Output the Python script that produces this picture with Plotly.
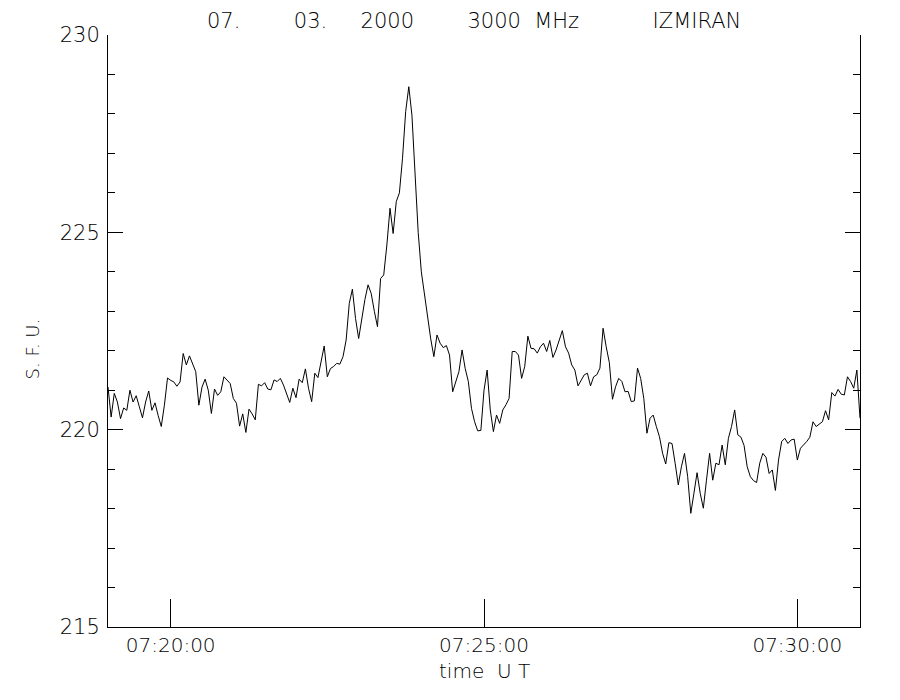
import pandas as pd
import plotly.graph_objects as go

# ---- data -------------------------------------------------------------
start_time = "2000-03-07 07:19:00"
cadence = "3s"

sfu_values = [
    # 07:19:00 ...
    221.08, 220.32, 220.92, 220.70, 220.28, 220.55, 220.49, 221.00, 220.70, 220.86,
    220.58, 220.30, 220.70, 220.98, 220.49, 220.68, 220.36, 220.08, 220.62, 221.31,
    221.25, 221.21, 221.10, 221.21, 221.93, 221.64, 221.87, 221.68, 221.47, 220.62,
    221.08, 221.28, 221.00, 220.41, 221.03, 220.87, 220.96, 221.34, 221.25, 221.17,
    220.79,
    220.67, 220.09, 220.40, 219.93, 220.52, 220.40, 220.25, 221.15, 221.11, 221.19,
    221.03, 221.01, 221.26, 221.22, 221.30, 221.13, 220.92, 220.69, 221.05, 220.81,
    221.28, 221.19, 221.54, 221.05, 220.71, 221.43, 221.32, 221.68, 222.12, 221.34,
    221.55, 221.60, 221.68, 221.66, 221.85, 222.27, 223.20, 223.56, 222.82,
    222.31, 222.85, 223.30, 223.67, 223.45, 223.00, 222.61, 223.83, 223.92, 224.68,
    225.61, 224.97, 225.78, 226.00, 226.88, 228.06, 228.69,
    227.97, 226.30, 225.00, 224.00, 223.40, 222.90, 222.30, 221.85,
    222.40, 222.19, 222.08, 222.13, 221.89, 220.96, 221.22, 221.47, 222.02, 221.55,
    221.22, 220.54, 220.20, 219.97, 219.98, 221.00, 221.51,
    220.50, 219.95, 220.37, 220.16, 220.50, 220.63, 220.79, 221.98, 221.98, 221.89,
    221.30, 221.60, 222.37, 222.06, 222.05, 221.94, 222.10, 222.19, 221.98, 222.26,
    221.83, 222.02, 222.27, 222.51, 222.10, 221.94, 221.64, 221.51, 221.11, 221.26,
    221.39, 221.43, 221.11, 221.34, 221.39, 221.56, 222.57, 222.10, 221.70,
    220.77, 221.09, 221.30, 221.22, 220.96, 220.97, 220.71, 220.73, 221.56, 221.30,
    220.79, 219.91, 220.29, 220.37, 220.08, 219.82, 219.40, 219.13, 219.67, 219.65,
    219.15, 218.60, 219.06, 219.40, 218.81, 217.88, 218.39, 218.91, 218.39, 218.01,
    218.72, 219.40, 218.72, 219.15, 219.11, 219.61, 219.11, 219.78, 220.08, 220.50,
    219.87, 219.81, 219.60, 219.06, 218.81, 218.71, 218.66, 219.15, 219.40, 219.30,
    218.89, 218.98, 218.46, 219.23, 219.70, 219.78, 219.65, 219.74, 219.76, 219.23,
    219.53, 219.61, 219.70, 219.81, 220.20, 220.08, 220.14, 220.20, 220.48, 220.25,
    220.94, 220.85, 221.02, 220.90, 220.88, 221.34, 221.22, 221.05, 221.51, 220.29,
]

x_range = ["2000-03-07 07:19:00", "2000-03-07 07:31:00"]
x_tick_values = ["2000-03-07 07:20:00", "2000-03-07 07:25:00", "2000-03-07 07:30:00"]
x_tick_labels = ["07:20:00", "07:25:00", "07:30:00"]
y_range = [215, 230]
y_tick_values = [215, 220, 225, 230]
y_tick_labels = ["215", "220", "225", "230"]

NB = "\u00a0"
title_text = ("07." + NB * 8 + "03." + NB * 5 + "2000" + NB * 8 + "3000" + NB * 2
              + "MHz" + NB * 11 + "IZMIRAN")
x_title = "time" + NB * 2 + "U" + NB + "T"
y_title = "S." + NB + "F." + NB + "U."

times = pd.date_range(start=start_time, periods=len(sfu_values), freq=cadence)

# ---- figure -----------------------------------------------------------
FONT = dict(family="DejaVu Sans", size=21, color="black", weight=200)
TICK_FONT = dict(family="DejaVu Sans", size=20, color="black", weight=200)
YTITLE_FONT = dict(family="DejaVu Sans", size=18, color="black", weight=200)

fig = go.Figure(
    go.Scatter(
        x=times,
        y=sfu_values,
        mode="lines",
        line=dict(color="black", width=1),
        hoverinfo="x+y",
    )
)

# the page body adds an 8px offset, so the figure is 8px smaller than the window
fig.update_layout(
    width=892,
    height=692,
    margin=dict(l=100, r=40, t=27, b=73),
    paper_bgcolor="white",
    plot_bgcolor="white",
    showlegend=False,
    font=FONT,
)

fig.update_xaxes(
    type="date",
    range=x_range,
    tickmode="array",
    tickvals=x_tick_values,
    ticktext=x_tick_labels,
    ticks="inside",
    ticklen=28,
    tickwidth=1,
    tickcolor="black",
    showline=True,
    linecolor="black",
    linewidth=1,
    mirror=False,
    showgrid=False,
    zeroline=False,
    tickfont=TICK_FONT,
    ticklabelstandoff=0,
)

fig.update_yaxes(
    range=y_range,
    tickmode="array",
    tickvals=y_tick_values,
    ticktext=y_tick_labels,
    ticks="inside",
    ticklen=15,
    tickwidth=1,
    tickcolor="black",
    minor=dict(dtick=1, ticks="inside", ticklen=7, tickwidth=1,
               tickcolor="black", showgrid=False),
    showline=True,
    linecolor="black",
    linewidth=1,
    mirror="allticks",
    showgrid=False,
    zeroline=False,
    tickfont=FONT,
    ticklabelstandoff=3,
)

fig.add_annotation(text=title_text, xref="paper", yref="paper",
                   x=0.487, y=1.0236, xanchor="center", yanchor="middle",
                   showarrow=False, font=FONT)
fig.add_annotation(text=x_title, xref="paper", yref="paper",
                   x=0.5, y=-0.0743, xanchor="center", yanchor="middle",
                   showarrow=False, font=TICK_FONT)
fig.add_annotation(text=y_title, xref="paper", yref="paper",
                   x=-0.101, y=0.469, xanchor="center", yanchor="middle",
                   textangle=-90, showarrow=False, font=YTITLE_FONT)

fig.write_html("out.html")
